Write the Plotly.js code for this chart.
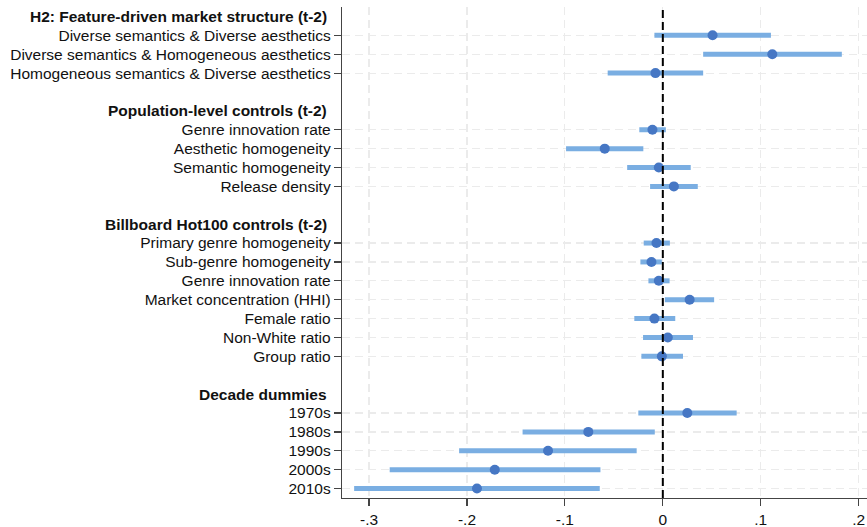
<!DOCTYPE html>
<html>
<head>
<meta charset="utf-8">
<script src="https://cdn.plot.ly/plotly-3.0.1.min.js"></script>
<style>html,body{margin:0;padding:0;background:#fff;}#chart{width:867px;height:527px;}</style>
</head>
<body>
<div id="chart"></div>
<script>
// Section headers and their row positions
const headerLabels = ["H2: Feature-driven market structure (t-2)", "Population-level controls (t-2)", "Billboard Hot100 controls (t-2)", "Decade dummies"];
const headerRows = [0, 5, 11, 20];

// Coefficient rows
const varLabels = [
  "Diverse semantics & Diverse aesthetics",
  "Diverse semantics & Homogeneous aesthetics",
  "Homogeneous semantics & Diverse aesthetics",
  "Genre innovation rate",
  "Aesthetic homogeneity",
  "Semantic homogeneity",
  "Release density",
  "Primary genre homogeneity",
  "Sub-genre homogeneity",
  "Genre innovation rate",
  "Market concentration (HHI)",
  "Female ratio",
  "Non-White ratio",
  "Group ratio",
  "1970s",
  "1980s",
  "1990s",
  "2000s",
  "2010s"
];
const varRows = [1, 2, 3, 6, 7, 8, 9, 12, 13, 14, 15, 16, 17, 18, 21, 22, 23, 24, 25];
const coef  = [0.0508, 0.1118, -0.0075, -0.0106, -0.0593, -0.0041, 0.0113, -0.0065, -0.0116, -0.0041, 0.0274, -0.0086, 0.0051, -0.0010, 0.0250, -0.0761, -0.1172, -0.1716, -0.1898];
const ciLow = [-0.0086, 0.0412, -0.0563, -0.0240, -0.0988, -0.0364, -0.0130, -0.0195, -0.0229, -0.0147, 0.0021, -0.0291, -0.0202, -0.0219, -0.0250, -0.1432, -0.2080, -0.2789, -0.3152];
const ciHigh = [0.1104, 0.1828, 0.0412, 0.0031, -0.0199, 0.0285, 0.0357, 0.0072, -0.0010, 0.0069, 0.0524, 0.0127, 0.0308, 0.0206, 0.0754, -0.0082, -0.0267, -0.0637, -0.0644];

// X ticks
const xTickVals = [-0.3, -0.2, -0.1, 0, 0.1, 0.2];
const xTickText = ["-.3", "-.2", "-.1", "0", ".1", ".2"];

const FONT = "Liberation Sans, Arial, Helvetica, sans-serif";

const trace = {
  type: "scatter",
  mode: "markers",
  x: coef,
  y: varRows,
  marker: {color: "#4677c4", size: 10},
  error_x: {
    type: "data",
    symmetric: false,
    array: coef.map((c, i) => ciHigh[i] - c),
    arrayminus: coef.map((c, i) => c - ciLow[i]),
    color: "#7aaee2",
    thickness: 5,
    width: 0
  },
  hoverinfo: "skip",
  showlegend: false
};

const annotations = headerLabels.map((t, i) => ({
  text: "<b>" + t + "</b>",
  xref: "paper", x: 0, xanchor: "right", xshift: -13,
  yref: "y", y: headerRows[i], yanchor: "middle",
  showarrow: false,
  font: {family: FONT, size: 15.5, color: "#111"}
}));

const layout = {
  width: 867, height: 527,
  margin: {l: 342, r: 0, t: 7, b: 29, pad: 0},
  paper_bgcolor: "#fff", plot_bgcolor: "#fff",
  font: {family: FONT, size: 15.5, color: "#111"},
  showlegend: false,
  xaxis: {
    range: [-0.3276, 0.2085],
    tickvals: xTickVals, ticktext: xTickText,
    showline: true, linecolor: "#444", linewidth: 1.2,
    ticks: "outside", ticklen: 7, tickcolor: "#444", tickwidth: 1.2,
    showgrid: true, gridcolor: "#ebebeb", gridwidth: 1.2, griddash: "8px,5px",
    zeroline: false,
    tickfont: {family: FONT, size: 15.5, color: "#111"}
  },
  yaxis: {
    range: [25.5, -0.5], autorange: false,
    tickvals: varRows, ticktext: varLabels,
    showline: true, linecolor: "#444", linewidth: 1.2,
    ticks: "outside", ticklen: 7, tickcolor: "#444", tickwidth: 1.2,
    showgrid: true, gridcolor: "#ebebeb", gridwidth: 1.2, griddash: "8px,5px",
    zeroline: false,
    tickfont: {family: FONT, size: 15.5, color: "#111"}
  },
  shapes: [{
    type: "line", xref: "x", x0: 0, x1: 0, yref: "paper", y0: 0, y1: 1,
    line: {color: "#000", width: 2, dash: "8px,4px"}, layer: "above"
  }],
  annotations: annotations
};

Plotly.newPlot("chart", [trace], layout, {displayModeBar: false, staticPlot: true});
</script>
</body>
</html>
